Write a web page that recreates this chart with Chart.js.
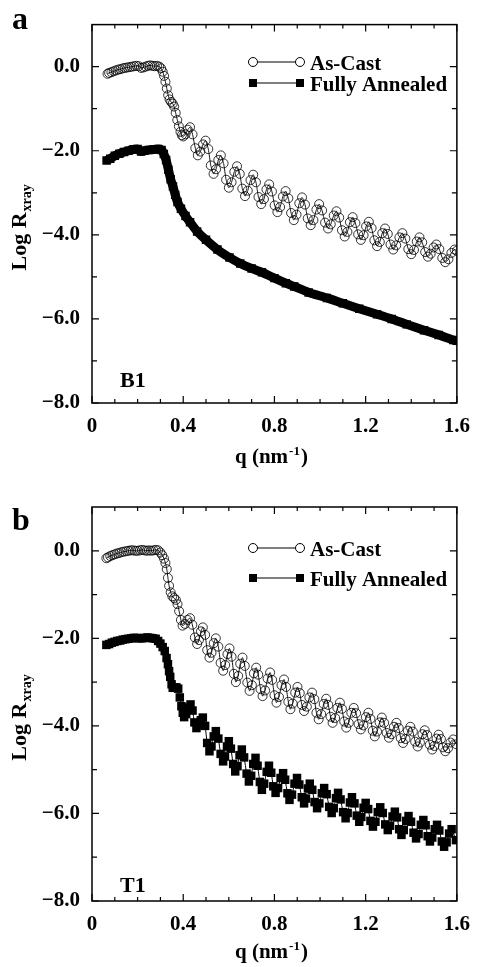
<!DOCTYPE html>
<html>
<head>
<meta charset="utf-8">
<title>Log R xray vs q</title>
<script src="https://cdn.jsdelivr.net/npm/chart.js@4.4.0/dist/chart.umd.min.js"></script>
<style>
  body { margin: 0; background: #fff; }
  canvas { display: block; }
</style>
</head>
<body>
<canvas id="chartA" width="481" height="480"></canvas>
<canvas id="chartB" width="481" height="487"></canvas>
<script>
// Series labels
const seriesLabels = ['As-Cast', 'Fully Annealed'];

// Axis ticks
const xTicks = [0, 0.4, 0.8, 1.2, 1.6];
const xMinorTicks = [0.1, 0.2, 0.3, 0.5, 0.6, 0.7, 0.9, 1.0, 1.1, 1.3, 1.4, 1.5];
const yTicks = [-8, -6, -4, -2, 0];
const yMinorTicks = [-7, -5, -3, -1];

// Panel a (B1) - As-Cast
const castQA = [0.068, 0.075, 0.085, 0.095, 0.105, 0.115, 0.125, 0.135, 0.145, 0.155,
  0.165, 0.175, 0.185, 0.195, 0.205, 0.215, 0.225, 0.235, 0.245, 0.255,
  0.265, 0.275, 0.285, 0.295, 0.303, 0.31, 0.316, 0.322, 0.328, 0.334,
  0.34, 0.347, 0.354, 0.36, 0.367, 0.374, 0.381, 0.388, 0.394,
  0.400, 0.410, 0.420, 0.430, 0.441, 0.453, 0.464, 0.475, 0.487, 0.498, 0.510, 0.521, 0.533,
  0.544, 0.554, 0.565, 0.577, 0.588, 0.600, 0.612, 0.624, 0.636, 0.648, 0.659, 0.671,
  0.683, 0.695, 0.707, 0.719, 0.730, 0.742, 0.754, 0.765, 0.777, 0.789, 0.801, 0.813,
  0.825, 0.837, 0.849, 0.861, 0.873, 0.885, 0.897, 0.909, 0.921, 0.934, 0.946, 0.959,
  0.971, 0.984, 0.996, 1.009, 1.022, 1.035, 1.047, 1.060, 1.072, 1.084, 1.096, 1.108,
  1.120, 1.131, 1.143, 1.155, 1.167, 1.179, 1.191, 1.202, 1.214, 1.226, 1.238, 1.250,
  1.262, 1.273, 1.285, 1.297, 1.309, 1.321, 1.334, 1.348, 1.361, 1.374, 1.387, 1.400,
  1.412, 1.424, 1.436, 1.448, 1.461, 1.473, 1.485, 1.498, 1.510, 1.523, 1.536, 1.549,
  1.563, 1.576, 1.590, 1.600];
const castLogA = [-0.17, -0.15, -0.13, -0.11, -0.09, -0.07, -0.06, -0.04, -0.03, -0.02,
  -0.01, 0.0, 0.01, 0.02, 0.01, -0.03, -0.02, 0.0, 0.02, 0.03,
  0.02, 0.01, 0.02, 0.0, -0.04, -0.12, -0.22, -0.36, -0.52, -0.68,
  -0.78, -0.84, -0.88, -0.95, -1.1, -1.27, -1.42, -1.55, -1.63,
  -1.66, -1.61, -1.50, -1.44, -1.61, -1.94, -2.11, -2.02, -1.85, -1.76, -1.96, -2.35, -2.55,
  -2.44, -2.22, -2.11, -2.30, -2.69, -2.88, -2.75, -2.50, -2.37, -2.55, -2.90, -3.08,
  -2.95, -2.70, -2.57, -2.75, -3.10, -3.27, -3.15, -2.92, -2.80, -2.97, -3.30, -3.46,
  -3.34, -3.09, -2.96, -3.13, -3.48, -3.65, -3.52, -3.25, -3.11, -3.28, -3.61, -3.77,
  -3.65, -3.40, -3.27, -3.42, -3.71, -3.85, -3.75, -3.54, -3.44, -3.59, -3.89, -4.04,
  -3.93, -3.70, -3.58, -3.72, -3.99, -4.12, -4.01, -3.80, -3.69, -3.84, -4.13, -4.27,
  -4.17, -3.96, -3.85, -3.98, -4.23, -4.35, -4.25, -4.06, -3.96, -4.09, -4.34, -4.46,
  -4.36, -4.16, -4.06, -4.18, -4.41, -4.52, -4.45, -4.30, -4.23, -4.34, -4.55, -4.65,
  -4.58, -4.43, -4.35, -4.38];

// Panel a (B1) - Fully Annealed
const annealQA = [0.064, 0.08, 0.10, 0.12, 0.14, 0.16, 0.18, 0.20, 0.215, 0.23, 0.25, 0.27, 0.29, 0.305, 0.315,
  0.325, 0.335, 0.345, 0.355, 0.365, 0.375, 0.39, 0.41, 0.43, 0.461, 0.50, 0.55, 0.603, 0.65, 0.70,
  0.745, 0.80, 0.85, 0.887, 0.95, 1.03, 1.10, 1.172, 1.25, 1.314, 1.38, 1.456, 1.52, 1.584, 1.60];
const annealLogA = [-2.23, -2.19, -2.12, -2.07, -2.03, -2.0, -1.97, -1.96, -2.02, -2.0, -1.98, -1.97, -1.96, -1.98, -2.08,
  -2.22, -2.45, -2.68, -2.85, -3.05, -3.22, -3.38, -3.55, -3.7, -3.92, -4.12, -4.35, -4.54, -4.68, -4.8,
  -4.89, -5.03, -5.15, -5.23, -5.37, -5.5, -5.63, -5.76, -5.89, -6.0, -6.13, -6.27, -6.38, -6.50, -6.52];

// Panel b (T1) - As-Cast
const castQB = [0.063, 0.07, 0.08, 0.09, 0.10, 0.11, 0.12, 0.13, 0.14, 0.15,
  0.16, 0.17, 0.18, 0.19, 0.20, 0.21, 0.22, 0.23, 0.24, 0.25,
  0.26, 0.27, 0.28, 0.29, 0.30, 0.308, 0.316, 0.322, 0.328, 0.333,
  0.338, 0.345, 0.352, 0.36, 0.368, 0.375, 0.382, 0.39,
  0.397, 0.408, 0.419, 0.430, 0.440, 0.451, 0.461, 0.469, 0.478, 0.486, 0.496, 0.505, 0.515,
  0.524, 0.534, 0.543, 0.554, 0.564, 0.575, 0.584, 0.594, 0.603, 0.612, 0.622, 0.631,
  0.641, 0.650, 0.660, 0.670, 0.681, 0.691, 0.701, 0.710, 0.720, 0.729, 0.739, 0.748,
  0.759, 0.770, 0.781, 0.790, 0.800, 0.809, 0.820, 0.831, 0.842, 0.851, 0.861, 0.870,
  0.880, 0.891, 0.901, 0.911, 0.920, 0.930, 0.942, 0.953, 0.965, 0.975, 0.984, 0.994,
  1.005, 1.016, 1.027, 1.036, 1.046, 1.055, 1.066, 1.076, 1.087, 1.096, 1.106, 1.115,
  1.126, 1.137, 1.148, 1.158, 1.169, 1.179, 1.190, 1.201, 1.212, 1.221, 1.231, 1.240,
  1.250, 1.261, 1.271, 1.281, 1.292, 1.302, 1.313, 1.324, 1.335, 1.345, 1.354, 1.364,
  1.375, 1.385, 1.396, 1.407, 1.417, 1.428, 1.438, 1.449, 1.459, 1.470, 1.481, 1.492,
  1.501, 1.511, 1.520, 1.530, 1.539, 1.549, 1.561, 1.572, 1.584, 1.598];
const castLogB = [-0.17, -0.15, -0.12, -0.10, -0.08, -0.06, -0.05, -0.03, -0.02, -0.01,
  0.0, 0.01, 0.01, 0.0, 0.0, 0.01, 0.02, 0.01, 0.0, 0.01,
  0.0, 0.01, 0.02, 0.01, -0.04, -0.10, -0.18, -0.28, -0.42, -0.62,
  -0.80, -0.95, -1.04, -1.08, -1.12, -1.22, -1.38, -1.58,
  -1.71, -1.67, -1.58, -1.54, -1.69, -1.98, -2.13, -2.04, -1.84, -1.75, -1.92, -2.27, -2.44,
  -2.33, -2.11, -2.00, -2.19, -2.56, -2.74, -2.61, -2.36, -2.23, -2.42, -2.81, -3.00,
  -2.86, -2.58, -2.44, -2.63, -3.01, -3.20, -3.07, -2.80, -2.67, -2.83, -3.16, -3.32,
  -3.19, -2.92, -2.78, -2.95, -3.30, -3.47, -3.34, -3.07, -2.94, -3.11, -3.45, -3.62,
  -3.49, -3.24, -3.11, -3.25, -3.52, -3.66, -3.56, -3.35, -3.24, -3.39, -3.70, -3.85,
  -3.73, -3.50, -3.38, -3.52, -3.79, -3.93, -3.82, -3.59, -3.47, -3.61, -3.90, -4.04,
  -3.93, -3.70, -3.59, -3.71, -3.96, -4.08, -3.99, -3.80, -3.70, -3.84, -4.11, -4.24,
  -4.13, -3.92, -3.81, -3.93, -4.16, -4.27, -4.19, -4.02, -3.93, -4.05, -4.28, -4.39,
  -4.30, -4.11, -4.02, -4.13, -4.36, -4.47, -4.38, -4.19, -4.10, -4.21, -4.43, -4.54,
  -4.46, -4.29, -4.20, -4.30, -4.49, -4.58, -4.51, -4.38, -4.31, -4.42];

// Panel b (T1) - Fully Annealed
const annealQB = [0.063, 0.075, 0.087, 0.099, 0.111, 0.123, 0.135, 0.147, 0.159, 0.171,
  0.183, 0.195, 0.207, 0.219, 0.231, 0.243, 0.255, 0.267, 0.279, 0.29,
  0.30, 0.31, 0.319, 0.327, 0.333, 0.338, 0.343, 0.349, 0.354, 0.362,
  0.37, 0.378, 0.385, 0.392, 0.398,
  0.404, 0.413, 0.423, 0.432, 0.441, 0.449, 0.458, 0.467, 0.477, 0.486, 0.496, 0.505, 0.515,
  0.524, 0.534, 0.543, 0.554, 0.564, 0.575, 0.583, 0.592, 0.600, 0.609, 0.619, 0.628,
  0.638, 0.647, 0.657, 0.667, 0.678, 0.688, 0.698, 0.707, 0.717, 0.726, 0.736, 0.745,
  0.755, 0.766, 0.776, 0.786, 0.795, 0.805, 0.816, 0.827, 0.838, 0.847, 0.857, 0.866,
  0.877, 0.888, 0.899, 0.909, 0.920, 0.930, 0.938, 0.947, 0.955, 0.966, 0.976, 0.987,
  0.997, 1.008, 1.018, 1.029, 1.040, 1.051, 1.060, 1.070, 1.079, 1.090, 1.101, 1.112,
  1.121, 1.131, 1.140, 1.151, 1.161, 1.172, 1.181, 1.191, 1.200, 1.211, 1.221, 1.232,
  1.243, 1.253, 1.264, 1.275, 1.286, 1.297, 1.307, 1.318, 1.328, 1.338, 1.347, 1.357,
  1.367, 1.378, 1.388, 1.399, 1.410, 1.421, 1.432, 1.442, 1.453, 1.463, 1.472, 1.482,
  1.492, 1.503, 1.513, 1.523, 1.534, 1.544, 1.555, 1.566, 1.577, 1.596];
const annealLogB = [-2.15, -2.13, -2.10, -2.08, -2.06, -2.05, -2.03, -2.02, -2.01, -2.0,
  -1.99, -1.99, -2.0, -2.0, -1.99, -1.98, -1.99, -2.0, -2.01, -2.06,
  -2.12, -2.2, -2.29, -2.45, -2.59, -2.75, -2.88, -3.05, -3.13, -3.13,
  -3.12, -3.15, -3.35, -3.55, -3.7,
  -3.80, -3.73, -3.58, -3.51, -3.65, -3.92, -4.05, -3.99, -3.87, -3.81, -4.00, -4.39, -4.58,
  -4.47, -4.24, -4.12, -4.29, -4.64, -4.81, -4.70, -4.47, -4.35, -4.52, -4.87, -5.04,
  -4.92, -4.67, -4.54, -4.72, -5.09, -5.27, -5.14, -4.87, -4.73, -4.91, -5.28, -5.46,
  -5.32, -5.05, -4.91, -5.07, -5.38, -5.53, -5.42, -5.19, -5.08, -5.23, -5.54, -5.69,
  -5.57, -5.32, -5.19, -5.34, -5.63, -5.77, -5.66, -5.43, -5.32, -5.46, -5.74, -5.88,
  -5.77, -5.54, -5.42, -5.56, -5.85, -5.99, -5.88, -5.65, -5.53, -5.68, -5.97, -6.11,
  -5.99, -5.75, -5.63, -5.77, -6.05, -6.19, -6.08, -5.87, -5.76, -5.90, -6.17, -6.30,
  -6.19, -5.97, -5.86, -5.99, -6.25, -6.38, -6.28, -6.07, -5.96, -6.09, -6.36, -6.49,
  -6.38, -6.17, -6.06, -6.19, -6.44, -6.57, -6.47, -6.26, -6.15, -6.27, -6.52, -6.64,
  -6.55, -6.36, -6.26, -6.39, -6.64, -6.76, -6.66, -6.46, -6.36, -6.61];

// Styling
const SERIF = '"Liberation Serif", "Times New Roman", serif';
const tickFont = { family: SERIF, size: 21, weight: 'bold' };

function toPoints(qs, logs) {
  return qs.map((q, i) => ({ x: q, y: logs[i] }));
}

// Legend markers
function drawMarker(ctx, style, x, y) {
  ctx.beginPath();
  if (style === 'rect') {
    ctx.fillStyle = '#000';
    ctx.fillRect(x - 4, y - 4, 8, 8);
  } else {
    ctx.fillStyle = '#fff';
    ctx.arc(x, y, 4.5, 0, Math.PI * 2);
    ctx.fill();
    ctx.lineWidth = 1;
    ctx.stroke();
  }
}

// Overlay: frame, inward ticks, axis titles, legend, panel text
function makeOverlay(cfg) {
  return {
    id: 'overlay',
    afterDraw(chart) {
      const { ctx, chartArea: area } = chart;
      const xs = chart.scales.x;
      const ys = chart.scales.y;
      ctx.save();
      ctx.strokeStyle = '#000';
      ctx.lineWidth = 1.5;
      ctx.strokeRect(area.left, area.top, area.right - area.left, area.bottom - area.top);

      ctx.lineWidth = 1.2;
      ctx.beginPath();
      const xTick = (v, len) => {
        const px = xs.getPixelForValue(v);
        ctx.moveTo(px, area.bottom); ctx.lineTo(px, area.bottom - len);
        ctx.moveTo(px, area.top); ctx.lineTo(px, area.top + len);
      };
      const yTick = (v, len) => {
        const py = ys.getPixelForValue(v);
        ctx.moveTo(area.left, py); ctx.lineTo(area.left + len, py);
        ctx.moveTo(area.right, py); ctx.lineTo(area.right - len, py);
      };
      xTicks.forEach(v => xTick(v, 7));
      xMinorTicks.forEach(v => xTick(v, 4));
      yTicks.forEach(v => yTick(v, 7));
      yMinorTicks.forEach(v => yTick(v, 5));
      ctx.stroke();

      ctx.fillStyle = '#000';
      ctx.textBaseline = 'alphabetic';

      // x axis title with superscript
      const big = 'bold 21px ' + SERIF;
      const small = 'bold 13px ' + SERIF;
      ctx.font = big;
      const w1 = ctx.measureText('q (nm').width;
      const w3 = ctx.measureText(')').width;
      ctx.font = small;
      const w2 = ctx.measureText('-1').width;
      const tx = (area.left + area.right) / 2 - 4 - (w1 + w2 + w3) / 2;
      const ty = area.bottom + cfg.xTitleOffset;
      ctx.font = big;
      ctx.fillText('q (nm', tx, ty);
      ctx.font = small;
      ctx.fillText('-1', tx + w1 + 1, ty - 8);
      ctx.font = big;
      ctx.fillText(')', tx + w1 + w2 + 2, ty);

      // y axis title with subscript
      ctx.save();
      ctx.translate(26, (area.top + area.bottom) / 2 + 14);
      ctx.rotate(-Math.PI / 2);
      const bigY = 'bold 22px ' + SERIF;
      const smallY = 'bold 14px ' + SERIF;
      ctx.font = bigY;
      const lw = ctx.measureText('Log R').width;
      ctx.font = smallY;
      const sw = ctx.measureText('xray').width;
      const sx = -(lw + sw) / 2;
      ctx.font = bigY;
      ctx.fillText('Log R', sx, 0);
      ctx.font = smallY;
      ctx.fillText('xray', sx + lw + 1, 5);
      ctx.restore();

      // panel letter and sample name
      ctx.font = 'bold 32px ' + SERIF;
      ctx.fillText(cfg.letter, 12, cfg.letterY);
      ctx.font = 'bold 22px ' + SERIF;
      ctx.fillText(cfg.sample, 120, cfg.sampleY);

      // legend
      ctx.font = 'bold 21px ' + SERIF;
      seriesLabels.forEach((label, i) => {
        const ly = cfg.legendY[i];
        ctx.beginPath();
        ctx.lineWidth = 1.2;
        ctx.moveTo(253, ly);
        ctx.lineTo(300, ly);
        ctx.stroke();
        const style = chart.data.datasets[i].pointStyle;
        drawMarker(ctx, style, 253, ly);
        drawMarker(ctx, style, 300, ly);
        ctx.fillStyle = '#000';
        ctx.fillText(label, 310, ly + 8);
      });
      ctx.restore();
    }
  };
}

function makePanel(canvasId, cfg) {
  const ctx = document.getElementById(canvasId).getContext('2d');
  return new Chart(ctx, {
    type: 'line',
    data: {
      datasets: [{
        label: seriesLabels[0],
        data: toPoints(cfg.castQ, cfg.castLog),
        borderColor: '#000',
        borderWidth: 0.9,
        tension: 0.2,
        pointStyle: 'circle',
        pointRadius: 4.5,
        pointBorderWidth: 0.8,
        pointBorderColor: '#000',
        pointBackgroundColor: 'rgba(255,255,255,0)'
      }, {
        label: seriesLabels[1],
        data: toPoints(cfg.annealQ, cfg.annealLog),
        borderColor: '#000',
        borderWidth: cfg.annealWidth,
        tension: 0.2,
        pointStyle: 'rect',
        pointRadius: 6,
        pointBorderWidth: 0,
        pointBackgroundColor: '#000'
      }]
    },
    options: {
      responsive: false,
      animation: false,
      events: [],
      layout: { padding: { left: 0, right: 14, top: cfg.padTop, bottom: 0 } },
      plugins: { legend: { display: false }, tooltip: { enabled: false } },
      scales: {
        x: {
          type: 'linear',
          min: 0,
          max: 1.6,
          afterBuildTicks: s => { s.ticks = xTicks.map(v => ({ value: v })); },
          afterFit: s => { s.height = cfg.xAxisHeight; },
          grid: { display: false, drawTicks: false },
          border: { display: false },
          ticks: {
            color: '#000',
            font: tickFont,
            padding: 11,
            maxRotation: 0,
            callback: v => (v === 0 ? '0' : v.toFixed(1))
          }
        },
        y: {
          type: 'linear',
          min: -8,
          max: 1,
          afterBuildTicks: s => { s.ticks = yTicks.map(v => ({ value: v })); },
          afterFit: s => { s.width = 92; },
          grid: { display: false, drawTicks: false },
          border: { display: false },
          ticks: {
            color: '#000',
            font: tickFont,
            padding: 12,
            callback: v => (v === 0 ? '0.0' : '\u2212' + Math.abs(v).toFixed(1))
          }
        }
      }
    },
    plugins: [makeOverlay(cfg)]
  });
}

// Panel a
makePanel('chartA', {
  castQ: castQA, castLog: castLogA,
  annealQ: annealQA, annealLog: annealLogA,
  annealWidth: 9,
  padTop: 14,
  xAxisHeight: 77,
  xTitleOffset: 60,
  letter: 'a', letterY: 29,
  sample: 'B1', sampleY: 387,
  legendY: [62, 83]
});

// Panel b
makePanel('chartB', {
  castQ: castQB, castLog: castLogB,
  annealQ: annealQB, annealLog: annealLogB,
  annealWidth: 1,
  padTop: 27,
  xAxisHeight: 66,
  xTitleOffset: 57,
  letter: 'b', letterY: 50,
  sample: 'T1', sampleY: 412,
  legendY: [68, 98]
});
</script>
</body>
</html>
